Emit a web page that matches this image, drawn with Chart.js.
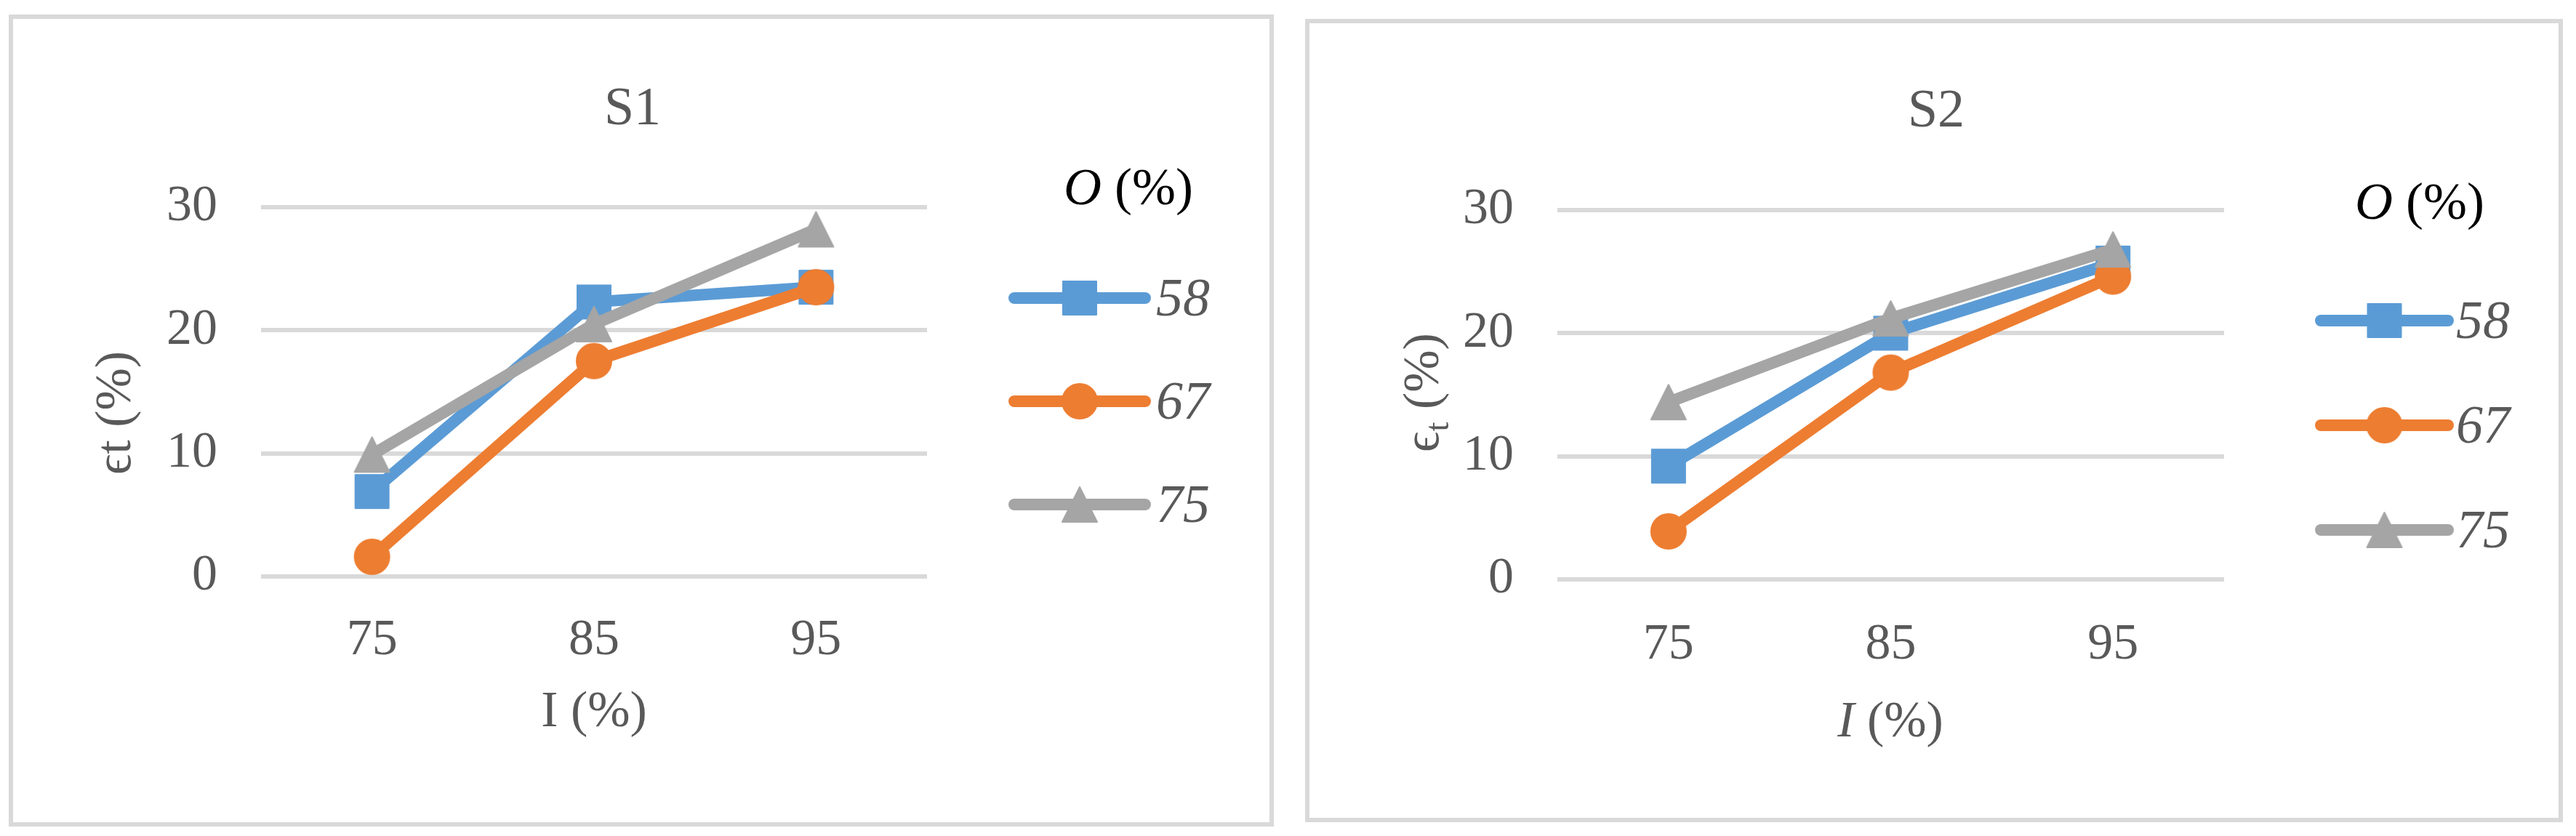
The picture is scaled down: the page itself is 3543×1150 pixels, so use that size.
<!DOCTYPE html>
<html><head><meta charset="utf-8">
<script src="https://cdn.jsdelivr.net/npm/chart.js@4.4.1/dist/chart.umd.min.js"></script>
<style>
html,body{margin:0;padding:0;background:#fff;}
body{width:3543px;height:1150px;position:relative;overflow:hidden;}
.panel{position:absolute;box-sizing:border-box;border:6px solid #d9d9d9;}
canvas{position:absolute;}
</style></head><body>
<div class="panel" id="p1"></div><div class="panel" id="p2"></div>
<canvas id="c1"></canvas><canvas id="c2"></canvas>
<script>
// ---- data ----
const CATEGORIES = ['75', '85', '95'];
const SERIES_NAMES = ['58', '67', '75'];
const S1_O58 = [6.9, 22.3, 23.5];
const S1_O67 = [1.6, 17.5, 23.5];
const S1_O75 = [9.9, 20.5, 28.2];
const S2_O58 = [9.2, 20.0, 25.7];
const S2_O67 = [3.9, 16.8, 24.6];
const S2_O75 = [14.4, 21.2, 26.8];
const Y_TICKS = [0, 10, 20, 30];

// ---- styles ----
const COLORS = ['#5B9BD5', '#ED7D31', '#A5A5A5'];
const SHAPES = ['square', 'circle', 'triangle'];
const TXT = '#595959';
const FAM = "'Liberation Serif', 'Times New Roman', 'DejaVu Serif', serif";

function marker(shape, color) {
  const c = document.createElement('canvas');
  c.width = 52; c.height = 52;
  const g = c.getContext('2d');
  g.fillStyle = color; g.strokeStyle = color; g.lineJoin = 'round'; g.lineWidth = 2;
  g.beginPath();
  if (shape === 'square') {
    g.rect(3, 3, 46, 46);
  } else if (shape === 'circle') {
    g.arc(26, 26, 24, 0, Math.PI * 2);
  } else {
    g.moveTo(26, 2); g.lineTo(50, 50); g.lineTo(2, 50); g.closePath();
  }
  g.fill(); g.stroke();
  return c;
}

function drawRich(ctx, segs, cx, cy, rot, align) {
  ctx.save();
  ctx.translate(cx, cy);
  if (rot) ctx.rotate(rot);
  ctx.textBaseline = 'alphabetic';
  ctx.textAlign = 'left';
  const fonts = segs.map(s => (s.italic ? 'italic ' : '') + s.size + 'px ' + FAM);
  const widths = segs.map((s, i) => { ctx.font = fonts[i]; return ctx.measureText(s.t).width; });
  const total = widths.reduce((a, b) => a + b, 0);
  let x = align === 'left' ? 0 : -total / 2;
  const base = segs[0].size * 0.33;
  segs.forEach((s, i) => {
    ctx.font = fonts[i];
    ctx.fillStyle = s.color || TXT;
    ctx.fillText(s.t, x, base + (s.dy || 0));
    x += widths[i];
  });
  ctx.restore();
}

function decor(cfg) {
  return {
    id: 'decor',
    afterDraw(chart) {
      const ctx = chart.ctx;
      drawRich(ctx, cfg.title.segs, cfg.title.x, cfg.title.y, 0);
      drawRich(ctx, cfg.yTitle.segs, cfg.yTitle.x, cfg.yTitle.y, -Math.PI / 2);
      drawRich(ctx, cfg.xTitle.segs, cfg.xTitle.x, cfg.xTitle.y, 0);
      drawRich(ctx, cfg.legendTitle.segs, cfg.legendTitle.x, cfg.legendTitle.y, 0);
      const L = cfg.legend;
      chart.data.datasets.forEach((ds, i) => {
        const y = L.ys[i];
        ctx.save();
        ctx.strokeStyle = ds.borderColor;
        ctx.lineWidth = ds.borderWidth;
        ctx.lineCap = 'round';
        ctx.beginPath(); ctx.moveTo(L.x0, y); ctx.lineTo(L.x1, y); ctx.stroke();
        const img = ds.pointStyle;
        ctx.drawImage(img, (L.x0 + L.x1) / 2 - img.width / 2, y - img.height / 2);
        ctx.restore();
        drawRich(ctx, [{ t: ds.label, size: 74, italic: true }], L.tx, y, 0, 'left');
      });
    }
  };
}

function makeChart(id, panelId, box, g, series, cfg) {
  const p = document.getElementById(panelId);
  Object.assign(p.style, { left: box.l + 'px', top: box.t + 'px', width: box.w + 'px', height: box.h + 'px' });
  const cv = document.getElementById(id);
  cv.width = box.w; cv.height = box.h;
  Object.assign(cv.style, { left: box.l + 'px', top: box.t + 'px', width: box.w + 'px', height: box.h + 'px' });
  const datasets = series.map((vals, i) => ({
    label: SERIES_NAMES[i],
    data: vals,
    borderColor: COLORS[i],
    backgroundColor: COLORS[i],
    borderWidth: 16,
    borderJoinStyle: 'round',
    borderCapStyle: 'round',
    pointStyle: marker(SHAPES[i], COLORS[i]),
    pointRadius: 24,
    pointHoverRadius: 24,
    tension: 0,
    clip: false,
    order: 3 - i
  }));
  return new Chart(cv, {
    type: 'line',
    data: { labels: CATEGORIES, datasets },
    options: {
      responsive: false,
      animation: false,
      events: [],
      layout: { padding: { top: g.padTop, right: g.padRight, left: 0, bottom: 0 } },
      plugins: { legend: { display: false }, title: { display: false }, tooltip: { enabled: false } },
      scales: {
        x: {
          type: 'category',
          offset: true,
          grid: { display: false, drawTicks: false },
          border: { display: false },
          ticks: { color: TXT, font: { family: FAM, size: 70 }, padding: g.xPad, maxRotation: 0 },
          afterFit: s => { s.height = g.xH; }
        },
        y: {
          min: 0, max: 30,
          grid: { color: '#D9D9D9', lineWidth: 6, drawTicks: false },
          border: { display: false },
          ticks: { color: TXT, font: { family: FAM, size: 70 }, padding: g.yPad, stepSize: 10 },
          afterBuildTicks: s => { s.ticks = Y_TICKS.map(v => ({ value: v })); },
          afterFit: s => { s.width = g.yW; }
        }
      }
    },
    plugins: [decor(cfg)]
  });
}

makeChart('c1', 'p1',
  { l: 12, t: 20, w: 1740, h: 1117 },
  { yW: 347, xH: 344, padTop: 265, padRight: 477, xPad: 47, yPad: 60 },
  [S1_O58, S1_O67, S1_O75],
  {
    title: { x: 858, y: 127, segs: [{ t: 'S1', size: 74 }] },
    yTitle: { x: 144, y: 548, segs: [{ t: 'ϵt (%)', size: 70 }] },
    xTitle: { x: 805, y: 956, segs: [{ t: 'I (%)', size: 70 }] },
    legendTitle: { x: 1540, y: 237, segs: [{ t: 'O', size: 72, italic: true, color: '#000' }, { t: ' (%)', size: 72, color: '#000' }] },
    legend: { ys: [390, 532, 674], x0: 1383, x1: 1563, tx: 1578 }
  });

makeChart('c2', 'p2',
  { l: 1795, t: 26, w: 1730, h: 1105 },
  { yW: 347, xH: 334, padTop: 263, padRight: 466, xPad: 49, yPad: 60 },
  [S2_O58, S2_O67, S2_O75],
  {
    title: { x: 868, y: 124, segs: [{ t: 'S2', size: 74 }] },
    yTitle: { x: 160, y: 514, segs: [{ t: 'ϵ', size: 70 }, { t: 't', size: 47, dy: 14 }, { t: ' (%)', size: 70 }] },
    xTitle: { x: 805, y: 964, segs: [{ t: 'I', size: 70, italic: true }, { t: ' (%)', size: 70 }] },
    legendTitle: { x: 1533, y: 251, segs: [{ t: 'O', size: 72, italic: true, color: '#000' }, { t: ' (%)', size: 72, color: '#000' }] },
    legend: { ys: [415, 559, 703], x0: 1397, x1: 1572, tx: 1583 }
  });
</script>
</body></html>
